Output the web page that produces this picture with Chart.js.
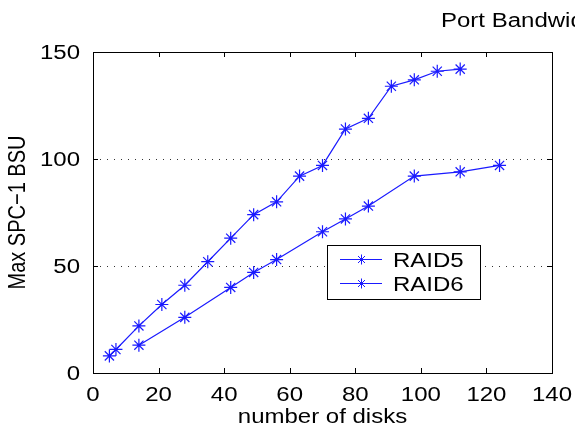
<!DOCTYPE html>
<html>
<head>
<meta charset="utf-8">
<script src="https://cdn.jsdelivr.net/npm/chart.js@4/dist/chart.umd.min.js"></script>
<style>
  html, body { margin: 0; padding: 0; background: #fff; }
  #wrap { width: 575px; height: 431px; position: relative; }
</style>
</head>
<body>
<div id="wrap"><canvas id="c"></canvas></div>
<script>
// số liệu
const raid5Disks = [5, 7, 14, 21, 28, 35, 42, 49, 56, 63, 70, 77, 84, 91, 98, 105, 112];
const raid5Bsu   = [8, 11, 22, 32, 41, 52, 63, 74, 80, 92, 97, 114, 119, 134, 137, 141, 142];
const raid6Disks = [14, 28, 42, 49, 56, 70, 77, 84, 98, 112, 124];
const raid6Bsu   = [13, 26, 40, 47, 53, 66, 72, 78, 92, 94, 97];
const xTicks = [0, 20, 40, 60, 80, 100, 120, 140];
const yTicks = [0, 50, 100, 150];
const gridAt = [50, 100];

const FONT = '"Liberation Sans", Arial, sans-serif';
const FSIZE = 20;
const SX = 1.2;       // chữ trong hình gốc bị kéo giãn ngang
const BLUE = '#1a1aff';

function toPts(xs, ys) {
  return xs.map((x, i) => ({ x: x, y: ys[i] }));
}

function text(ctx, s, x, y, align) {
  ctx.save();
  ctx.translate(x, y);
  ctx.scale(SX, 1);
  ctx.textAlign = align;
  ctx.textBaseline = 'alphabetic';
  ctx.fillText(s, 0, 0);
  ctx.restore();
}

function star(ctx, mx, cy, r) {
  ctx.beginPath();
  ctx.moveTo(mx - r, cy); ctx.lineTo(mx + r, cy);
  ctx.moveTo(mx, cy - r); ctx.lineTo(mx, cy + r);
  ctx.moveTo(mx - r * 0.7, cy - r * 0.7); ctx.lineTo(mx + r * 0.7, cy + r * 0.7);
  ctx.moveTo(mx - r * 0.7, cy + r * 0.7); ctx.lineTo(mx + r * 0.7, cy - r * 0.7);
  ctx.stroke();
}

// khung kiểu MATLAB: viền, vạch chia hướng vào trong, lưới chấm, nhãn, chú giải, tiêu đề
const matlabFrame = {
  id: 'matlabFrame',
  beforeDatasetsDraw(chart) {
    const ctx = chart.ctx;
    const a = chart.chartArea;
    const ys = chart.scales.y;
    ctx.save();
    ctx.strokeStyle = '#333';
    ctx.lineWidth = 1;
    ctx.setLineDash([1, 6]);
    gridAt.forEach(v => {
      const y = Math.round(ys.getPixelForValue(v)) + 0.5;
      ctx.beginPath(); ctx.moveTo(a.left, y); ctx.lineTo(a.right, y); ctx.stroke();
    });
    ctx.restore();
  },
  afterDraw(chart) {
    const ctx = chart.ctx;
    const a = chart.chartArea;
    const xs = chart.scales.x, ys = chart.scales.y;
    ctx.save();
    // khung
    ctx.strokeStyle = '#000';
    ctx.lineWidth = 1;
    ctx.strokeRect(Math.round(a.left) + 0.5, Math.round(a.top) + 0.5,
      Math.round(a.right - a.left), Math.round(a.bottom - a.top));
    // vạch chia
    const t = 5;
    ctx.beginPath();
    xs.ticks.forEach(tk => {
      const x = Math.round(xs.getPixelForValue(tk.value)) + 0.5;
      ctx.moveTo(x, a.bottom); ctx.lineTo(x, a.bottom - t);
      ctx.moveTo(x, a.top); ctx.lineTo(x, a.top + t);
    });
    ys.ticks.forEach(tk => {
      const y = Math.round(ys.getPixelForValue(tk.value)) + 0.5;
      ctx.moveTo(a.left, y); ctx.lineTo(a.left + t, y);
      ctx.moveTo(a.right, y); ctx.lineTo(a.right - t, y);
    });
    ctx.stroke();

    // nhãn trục
    ctx.fillStyle = '#000';
    ctx.font = FSIZE + 'px ' + FONT;
    xs.ticks.forEach(tk => text(ctx, String(tk.value), xs.getPixelForValue(tk.value), a.bottom + 28, 'center'));
    ys.ticks.forEach(tk => text(ctx, String(tk.value), a.left - 13, ys.getPixelForValue(tk.value) + 7, 'right'));
    text(ctx, 'number of disks', (a.left + a.right) / 2, 423, 'center');
    ctx.save();
    ctx.translate(25, (a.top + a.bottom) / 2);
    ctx.rotate(-Math.PI / 2);
    ctx.scale(1, SX);
    ctx.textAlign = 'center';
    ctx.textBaseline = 'alphabetic';
    ctx.fillText('Max SPC\u22121 BSU', 0, 0);
    ctx.restore();

    // chú giải
    const lx = 327, ly = 245, lw = 153, lh = 54;
    ctx.fillStyle = '#fff';
    ctx.fillRect(lx, ly, lw, lh);
    ctx.strokeStyle = '#000';
    ctx.strokeRect(lx + 0.5, ly + 0.5, lw, lh);
    chart.data.datasets.forEach((ds, i) => {
      const cy = ly + 14 + i * 24;
      ctx.strokeStyle = ds.borderColor;
      ctx.beginPath(); ctx.moveTo(lx + 13, cy + 0.5); ctx.lineTo(lx + 55, cy + 0.5); ctx.stroke();
      star(ctx, lx + 34.5, cy + 0.5, 5);
      ctx.fillStyle = '#000';
      text(ctx, ds.label, lx + 66, cy + 8, 'left');
    });

    // tiêu đề bị cắt ở mép phải
    ctx.fillStyle = '#000';
    text(ctx, 'Port Bandwidth', 441, 27, 'left');
    ctx.restore();
  }
};

new Chart(document.getElementById('c'), {
  type: 'scatter',
  data: {
    datasets: [
      {
        label: 'RAID5',
        data: toPts(raid5Disks, raid5Bsu),
        showLine: true,
        borderColor: BLUE,
        backgroundColor: BLUE,
        borderWidth: 1.2,
        pointStyle: 'star',
        pointRadius: 6.5,
        pointBorderWidth: 1.2,
        pointHoverRadius: 6.5
      },
      {
        label: 'RAID6',
        data: toPts(raid6Disks, raid6Bsu),
        showLine: true,
        borderColor: BLUE,
        backgroundColor: BLUE,
        borderWidth: 1.2,
        pointStyle: 'star',
        pointRadius: 6.5,
        pointBorderWidth: 1.2,
        pointHoverRadius: 6.5
      }
    ]
  },
  options: {
    responsive: true,
    maintainAspectRatio: false,
    animation: false,
    layout: { padding: { top: 52, right: 23, left: 0, bottom: 0 } },
    plugins: {
      legend: { display: false },
      tooltip: { enabled: false }
    },
    scales: {
      x: {
        type: 'linear',
        min: 0, max: 140,
        afterBuildTicks: s => { s.ticks = xTicks.map(v => ({ value: v })); },
        afterFit: s => { s.height = 58; },
        grid: { display: false, drawTicks: false },
        border: { display: false },
        ticks: { display: false }
      },
      y: {
        type: 'linear',
        min: 0, max: 150,
        afterBuildTicks: s => { s.ticks = yTicks.map(v => ({ value: v })); },
        afterFit: s => { s.width = 93; },
        grid: { display: false, drawTicks: false },
        border: { display: false },
        ticks: { display: false }
      }
    }
  },
  plugins: [matlabFrame]
});
</script>
</body>
</html>
